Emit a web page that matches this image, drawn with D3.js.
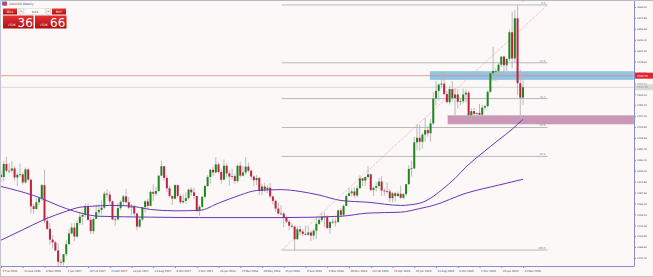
<!DOCTYPE html>
<html>
<head>
<meta charset="utf-8">
<script src="https://cdn.jsdelivr.net/npm/d3@7"></script>
<style>
  html, body { margin: 0; padding: 0; background: #fcf8f8; }
  svg { display: block; font-family: "DejaVu Sans", sans-serif; }
</style>
</head>
<body>
<svg width="653" height="277"></svg>
<script>
// XAUUSD weekly candles, week 0 = 17 Jul 2016
const opens = [1327,1322,1351,1336,1336,1341,1321,1327,1328,1310,1339,1316,1257,1251,1266,1275,1304,1225,1207,1183,1177,1159,1134,1133,
  1151,1173,1197,1210,1190,1220,1234,1238,1257,1227,1202,1229,1244,1249,1254,1285,1283,1268,1228,1228,1253,1267,1279,1266,1254,1256,
  1241,1212,1228,1255,1268,1258,1289,1285,1291,1325,1346,1320,1297,1280,1274,1304,1280,1266,1269,1275,1294,1288,1280,1248,1256,1278,
  1302,1322,1338,1332,1350,1333,1316,1347,1330,1323,1324,1313,1347,1325,1332,1345,1336,1323,1315,1320,1291,1301,1294,1298,1279,1269,
  1252,1241,1241,1231,1223,1214,1212,1184,1206,1201,1196,1194,1199,1192,1203,1218,1227,1234,1233,1209,1222,1223,1222,1248,1238,1258,
  1280,1286,1290,1281,1297,1319,1314,1322,1328,1293,1298,1302,1312,1292,1291,1290,1275,1286,1280,1285,1276,1284,1306,1340,1341,1399,
  1409,1400,1416,1426,1419,1441,1496,1513,1527,1529,1506,1488,1517,1497,1505,1489,1490,1505,1509,1459,1468,1462,1464,1460,1476,1479,
  1511,1552,1557,1557,1571,1589,1570,1584,1643,1585,1674,1530,1498];
const highs = [1336,1357,1367,1352,1358,1346,1331,1352,1332,1343,1341,1318,1262,1275,1278,1307,1338,1236,1220,1193,1180,1175,1140,1151,
  1182,1207,1219,1220,1226,1245,1245,1264,1264,1233,1233,1261,1261,1270,1290,1295,1290,1270,1236,1264,1270,1282,1296,1278,1262,1260,
  1243,1233,1256,1270,1274,1292,1306,1300,1326,1358,1346,1326,1303,1281,1306,1306,1283,1284,1288,1297,1299,1299,1280,1260,1280,1305,
  1326,1340,1344,1366,1354,1340,1361,1352,1336,1340,1329,1350,1356,1347,1366,1354,1338,1326,1326,1322,1307,1309,1303,1309,1279,1272,
  1265,1259,1244,1236,1227,1219,1215,1213,1214,1206,1214,1212,1204,1207,1233,1233,1243,1243,1237,1225,1230,1230,1250,1253,1261,1284,
  1298,1297,1299,1303,1326,1320,1323,1346,1330,1301,1311,1320,1324,1297,1310,1295,1289,1289,1290,1303,1286,1307,1348,1358,1411,1439,
  1438,1420,1453,1434,1450,1510,1535,1530,1555,1557,1513,1524,1535,1519,1517,1498,1518,1516,1513,1474,1475,1465,1484,1482,1482,1514,
  1553,1611,1563,1575,1589,1591,1584,1649,1689,1692,1703,1560,1548];
const lows = [1310,1312,1332,1330,1331,1314,1302,1322,1305,1307,1312,1241,1241,1250,1260,1270,1220,1205,1172,1164,1157,1123,1124,1126,
  1146,1173,1194,1180,1187,1215,1216,1233,1225,1195,1196,1229,1238,1240,1251,1276,1260,1226,1214,1226,1248,1258,1265,1250,1237,1236,
  1204,1208,1225,1243,1251,1257,1268,1280,1288,1323,1314,1288,1276,1260,1273,1276,1262,1263,1264,1272,1280,1272,1243,1236,1253,1275,
  1300,1307,1324,1330,1330,1307,1316,1321,1303,1316,1307,1309,1321,1323,1326,1332,1316,1302,1304,1282,1282,1288,1286,1275,1261,1245,
  1237,1238,1211,1220,1204,1208,1160,1183,1194,1190,1193,1191,1180,1184,1185,1215,1222,1211,1206,1196,1218,1212,1221,1233,1236,1258,
  1279,1279,1276,1277,1297,1302,1302,1318,1290,1280,1290,1298,1280,1280,1285,1266,1266,1267,1278,1273,1273,1280,1305,1323,1340,1381,
  1381,1385,1400,1411,1400,1437,1480,1491,1519,1503,1485,1483,1490,1459,1474,1481,1485,1487,1456,1445,1456,1452,1458,1455,1470,1477,
  1508,1535,1535,1546,1565,1548,1557,1578,1563,1577,1504,1451,1482];
const closes = [1322,1351,1336,1336,1341,1321,1327,1328,1310,1339,1316,1257,1251,1266,1275,1304,1225,1207,1183,1177,1159,1134,1133,1151,
  1173,1197,1210,1190,1220,1234,1238,1257,1227,1202,1229,1244,1249,1254,1285,1283,1268,1228,1228,1253,1267,1279,1266,1254,1256,1241,
  1212,1228,1255,1268,1258,1289,1285,1291,1325,1346,1320,1297,1280,1274,1304,1280,1266,1269,1275,1294,1288,1280,1248,1256,1278,1302,
  1322,1338,1332,1350,1333,1316,1347,1330,1323,1324,1313,1347,1325,1332,1345,1336,1323,1315,1320,1291,1301,1294,1298,1279,1269,1252,
  1241,1241,1231,1223,1214,1212,1184,1206,1201,1196,1194,1199,1192,1203,1218,1227,1234,1233,1209,1222,1223,1222,1248,1238,1258,1280,
  1286,1290,1281,1297,1319,1314,1322,1328,1293,1298,1302,1312,1292,1291,1290,1275,1286,1280,1285,1276,1284,1306,1340,1341,1399,1409,
  1400,1416,1426,1419,1441,1496,1513,1527,1529,1506,1488,1517,1497,1505,1489,1490,1505,1509,1459,1468,1462,1464,1460,1476,1479,1511,
  1552,1557,1557,1571,1589,1570,1584,1643,1585,1674,1530,1498,1521];

// moving averages (week index, price)
const fastMaWeeks = [0, 7, 16, 24, 29, 33, 40, 47, 55, 64, 73, 80, 88, 94, 103, 110, 117, 125, 135, 147, 154, 158, 162, 167, 171, 177, 183, 188, 192];
const fastMaValues = [1182, 1202, 1228, 1246, 1255, 1257, 1259, 1258, 1250, 1247, 1248, 1264, 1282, 1292, 1294, 1290, 1282, 1270, 1266, 1259, 1264, 1275, 1293, 1319, 1344, 1375, 1404, 1428, 1450];
const slowMaWeeks = [0, 12, 24, 30, 36, 55, 73, 103, 125, 135, 147, 154, 159, 171, 183, 192];
const slowMaValues = [1301, 1281, 1252, 1241, 1235, 1233, 1232, 1232, 1235, 1242, 1244, 1252, 1259, 1286, 1304, 1317];

// chart objects
const fibLevels = [0, 23.6, 38.2, 50.0, 61.8, 100.0];
const fibLabels = ["0.0", "23.6", "38.2", "50.0", "61.8", "100.0"];
const fibFrom = [103.3, 1160];
const fibTo = [201, 1703.6];
const blueZone = [157.7, 1537, 1557];
const pinkZone = [164.2, 1438.6, 1459.2];
const redLevel = 1546.7;
const bidLevel = 1521.0;

const weekTicks = [0, 8, 16, 24, 32, 40, 48, 56, 64, 72, 80, 88, 96, 104, 112, 120, 128, 136, 144, 152, 160, 168, 176, 184, 192];
const weekLabels = ["17 Jul 2016", "11 Sep 2016", "6 Nov 2016", "1 Jan 2017", "26 Feb 2017", "23 Apr 2017", "18 Jun 2017",
  "13 Aug 2017", "8 Oct 2017", "3 Dec 2017", "28 Jan 2018", "25 Mar 2018", "20 May 2018", "15 Jul 2018", "9 Sep 2018",
  "4 Nov 2018", "30 Dec 2018", "24 Feb 2019", "21 Apr 2019", "16 Jun 2019", "11 Aug 2019", "6 Oct 2019", "1 Dec 2019",
  "26 Jan 2020", "22 Mar 2020"];
const priceTicks = [1142.40, 1166.60, 1190.80, 1215.00, 1239.20, 1263.40, 1287.60, 1311.80, 1336.00, 1360.20, 1384.40, 1408.60,
  1432.80, 1457.00, 1481.20, 1505.40, 1529.60, 1553.80, 1578.00, 1602.20, 1626.40, 1650.60, 1674.80, 1699.00];

const plotRight = 634, plotBottom = 266;
const x = d3.scaleLinear().domain([0, 192]).range([1, 523]);
const y = d3.scaleLinear().domain([1142.4, 1699.0]).range([258, 7]);

const svg = d3.select("svg");
svg.append("rect").attr("width", 653).attr("height", 277).attr("fill", "#fcf8f8");

svg.append("clipPath").attr("id", "plot")
  .append("rect").attr("x", 0).attr("y", 0).attr("width", plotRight).attr("height", plotBottom);
const g = svg.append("g").attr("clip-path", "url(#plot)");

// zones
function drawZone(z, color) {
  g.append("rect")
    .attr("x", x(z[0])).attr("width", plotRight - x(z[0]))
    .attr("y", y(z[2])).attr("height", y(z[1]) - y(z[2]))
    .attr("fill", color).attr("stroke", "#ffffff").attr("stroke-opacity", 0.5).attr("stroke-width", 0.6);
}
drawZone(blueZone, "#8fc4e2");
drawZone(pinkZone, "#c898b6");

// horizontal lines
g.append("line").attr("x1", 0).attr("x2", plotRight).attr("y1", y(bidLevel)).attr("y2", y(bidLevel))
  .attr("stroke", "#cfcfcf").attr("stroke-width", 0.8);
g.append("line").attr("x1", 0).attr("x2", plotRight).attr("y1", y(redLevel)).attr("y2", y(redLevel))
  .attr("stroke", "#e88686").attr("stroke-width", 0.8);

// fibonacci
let fibRange = fibTo[1] - fibFrom[1];
fibLevels.forEach((lv, i) => {
  let p = fibTo[1] - fibRange * lv / 100;
  g.append("line").attr("x1", x(fibFrom[0])).attr("x2", x(fibTo[0]))
    .attr("y1", y(p)).attr("y2", y(p))
    .attr("stroke", "#a3a9a9").attr("stroke-width", 0.8);
  g.append("text").attr("x", x(fibTo[0]) - 2).attr("y", y(p) - 1)
    .attr("text-anchor", "end").attr("font-size", 2.6).attr("fill", "#7a7a7a")
    .text(fibLabels[i]);
});
g.append("line")
  .attr("x1", x(fibFrom[0])).attr("y1", y(fibFrom[1]))
  .attr("x2", x(fibTo[0])).attr("y2", y(fibTo[1]))
  .attr("stroke", "#f09a9a").attr("stroke-width", 0.8).attr("stroke-dasharray", "1,1");

// candles
let weeks = d3.range(opens.length);
g.selectAll("line.wick").data(weeks).enter().append("line")
  .attr("class", "wick")
  .attr("x1", (i) => x(i)).attr("x2", (i) => x(i))
  .attr("y1", (i) => y(highs[i])).attr("y2", (i) => y(lows[i]))
  .attr("stroke", "#b4b4b4").attr("stroke-width", 0.9);
g.selectAll("rect.body").data(weeks).enter().append("rect")
  .attr("class", "body")
  .attr("x", (i) => x(i) - 1).attr("width", 2)
  .attr("y", (i) => y(Math.max(opens[i], closes[i])))
  .attr("height", (i) => Math.max(0.8, Math.abs(y(opens[i]) - y(closes[i]))))
  .attr("fill", (i) => (closes[i] >= opens[i] ? "#1f861f" : "#c0223f"));

// moving averages
let maLine = d3.line().x((d) => x(d[0])).y((d) => y(d[1])).curve(d3.curveMonotoneX);
g.append("path").datum(fastMaWeeks.map((w, i) => [w, fastMaValues[i]]))
  .attr("d", maLine).attr("fill", "none").attr("stroke", "#6c34b4").attr("stroke-width", 1);
g.append("path").datum(slowMaWeeks.map((w, i) => [w, slowMaValues[i]]))
  .attr("d", maLine).attr("fill", "none").attr("stroke", "#6c34b4").attr("stroke-width", 1);

// shift marker
svg.append("path").attr("d", `M${x(192) - 1.5},0 L${x(192) + 1.5},0 L${x(192)},2 Z`).attr("fill", "#a0a0a0");

// axes
let yAxis = d3.axisRight(y).tickValues(priceTicks).tickFormat(d3.format(".2f")).tickSize(2).tickSizeOuter(0);
let ya = svg.append("g").attr("transform", `translate(${plotRight},0)`).call(yAxis);
ya.select(".domain").attr("d", `M0.5,0V${plotBottom}`).attr("stroke", "#8c8cc6");
ya.selectAll(".tick line").attr("stroke", "#8c8cc6");
ya.selectAll(".tick text").attr("x", 3).attr("font-size", 2.4).attr("fill", "#3c3c5a").attr("font-family", "DejaVu Sans");

let xAxis = d3.axisBottom(x).tickValues(weekTicks).tickFormat((d, i) => weekLabels[i]).tickSize(2).tickSizeOuter(0);
let xa = svg.append("g").attr("transform", `translate(0,${plotBottom})`).call(xAxis);
xa.select(".domain").attr("d", `M0,0.5H${plotRight + 0.5}`).attr("stroke", "#8c8cc6");
xa.selectAll(".tick line").attr("stroke", "#8c8cc6");
xa.selectAll(".tick text").attr("text-anchor", "start").attr("x", 1).attr("y", 4)
  .attr("font-size", 2.6).attr("fill", "#3c3c5a").attr("font-family", "DejaVu Sans");

// price labels on the axis
function axisTag(p, fill, color, txt) {
  svg.append("rect").attr("x", plotRight + 1).attr("y", y(p) - 3).attr("width", 18).attr("height", 6).attr("fill", fill);
  svg.append("text").attr("x", plotRight + 3).attr("y", y(p) + 1).attr("font-size", 2.6).attr("fill", color).text(txt);
}
axisTag(redLevel, "#e4252f", "#ffffff", "1546.70");
axisTag(bidLevel, "#d9d9d9", "#8a8a8a", "1521.36");

// window frame
svg.append("line").attr("x1", 0).attr("x2", 653).attr("y1", 0.5).attr("y2", 0.5).attr("stroke", "#b8b8c4");
svg.append("line").attr("x1", 0.5).attr("x2", 0.5).attr("y1", 0).attr("y2", 277).attr("stroke", "#c4c4cc");
svg.append("line").attr("x1", 0).attr("x2", 653).attr("y1", 276.5).attr("y2", 276.5).attr("stroke", "#c4c4cc");

// title
svg.append("rect").attr("x", 2).attr("y", 1.5).attr("width", 5).attr("height", 4).attr("fill", "#5a6fd0");
svg.append("rect").attr("x", 4).attr("y", 2.5).attr("width", 3).attr("height", 3).attr("fill", "#d84040");
svg.append("text").attr("x", 9).attr("y", 5).attr("font-size", 3).attr("fill", "#555").text("XAUUSD,Weekly");

// one-click trading panel
let defs = svg.append("defs");
let grad = defs.append("linearGradient").attr("id", "redGrad").attr("x1", 0).attr("x2", 0).attr("y1", 0).attr("y2", 1);
grad.append("stop").attr("offset", "0%").attr("stop-color", "#e63030");
grad.append("stop").attr("offset", "100%").attr("stop-color", "#b01010");
let panel = svg.append("g");
panel.append("rect").attr("x", 3).attr("y", 8.5).attr("width", 14).attr("height", 6).attr("fill", "url(#redGrad)");
panel.append("text").attr("x", 10).attr("y", 12.6).attr("text-anchor", "middle").attr("font-size", 3).attr("fill", "#fff").text("SELL");
panel.append("rect").attr("x", 19).attr("y", 8.5).attr("width", 4.5).attr("height", 6).attr("fill", "#f2f2f2").attr("stroke", "#bbb").attr("stroke-width", 0.4);
panel.append("text").attr("x", 21.2).attr("y", 12.4).attr("text-anchor", "middle").attr("font-size", 2.5).attr("fill", "#333").text("▾");
panel.append("rect").attr("x", 25).attr("y", 8.5).attr("width", 20).attr("height", 6).attr("fill", "#fff").attr("stroke", "#ccc").attr("stroke-width", 0.4);
panel.append("text").attr("x", 35).attr("y", 12.6).attr("text-anchor", "middle").attr("font-size", 3).attr("fill", "#333").text("0.01");
panel.append("rect").attr("x", 46).attr("y", 8.5).attr("width", 4.5).attr("height", 6).attr("fill", "#f2f2f2").attr("stroke", "#bbb").attr("stroke-width", 0.4);
panel.append("text").attr("x", 48.2).attr("y", 12.4).attr("text-anchor", "middle").attr("font-size", 2.5).attr("fill", "#333").text("▴");
panel.append("rect").attr("x", 52).attr("y", 8.5).attr("width", 14).attr("height", 6).attr("fill", "url(#redGrad)");
panel.append("text").attr("x", 59).attr("y", 12.6).attr("text-anchor", "middle").attr("font-size", 3).attr("fill", "#fff").text("BUY");
panel.append("rect").attr("x", 3).attr("y", 15.5).attr("width", 30.5).attr("height", 13).attr("fill", "url(#redGrad)");
panel.append("rect").attr("x", 35).attr("y", 15.5).attr("width", 31.5).attr("height", 13).attr("fill", "url(#redGrad)");
panel.append("text").attr("x", 8).attr("y", 25.5).attr("font-size", 3).attr("fill", "#fff").text("1526");
panel.append("text").attr("x", 17.5).attr("y", 27).attr("font-size", 12).attr("fill", "#fff").text("36");
panel.append("text").attr("x", 40).attr("y", 25.5).attr("font-size", 3).attr("fill", "#fff").text("1526");
panel.append("text").attr("x", 50).attr("y", 27).attr("font-size", 12).attr("fill", "#fff").text("66");
</script>
</body>
</html>
